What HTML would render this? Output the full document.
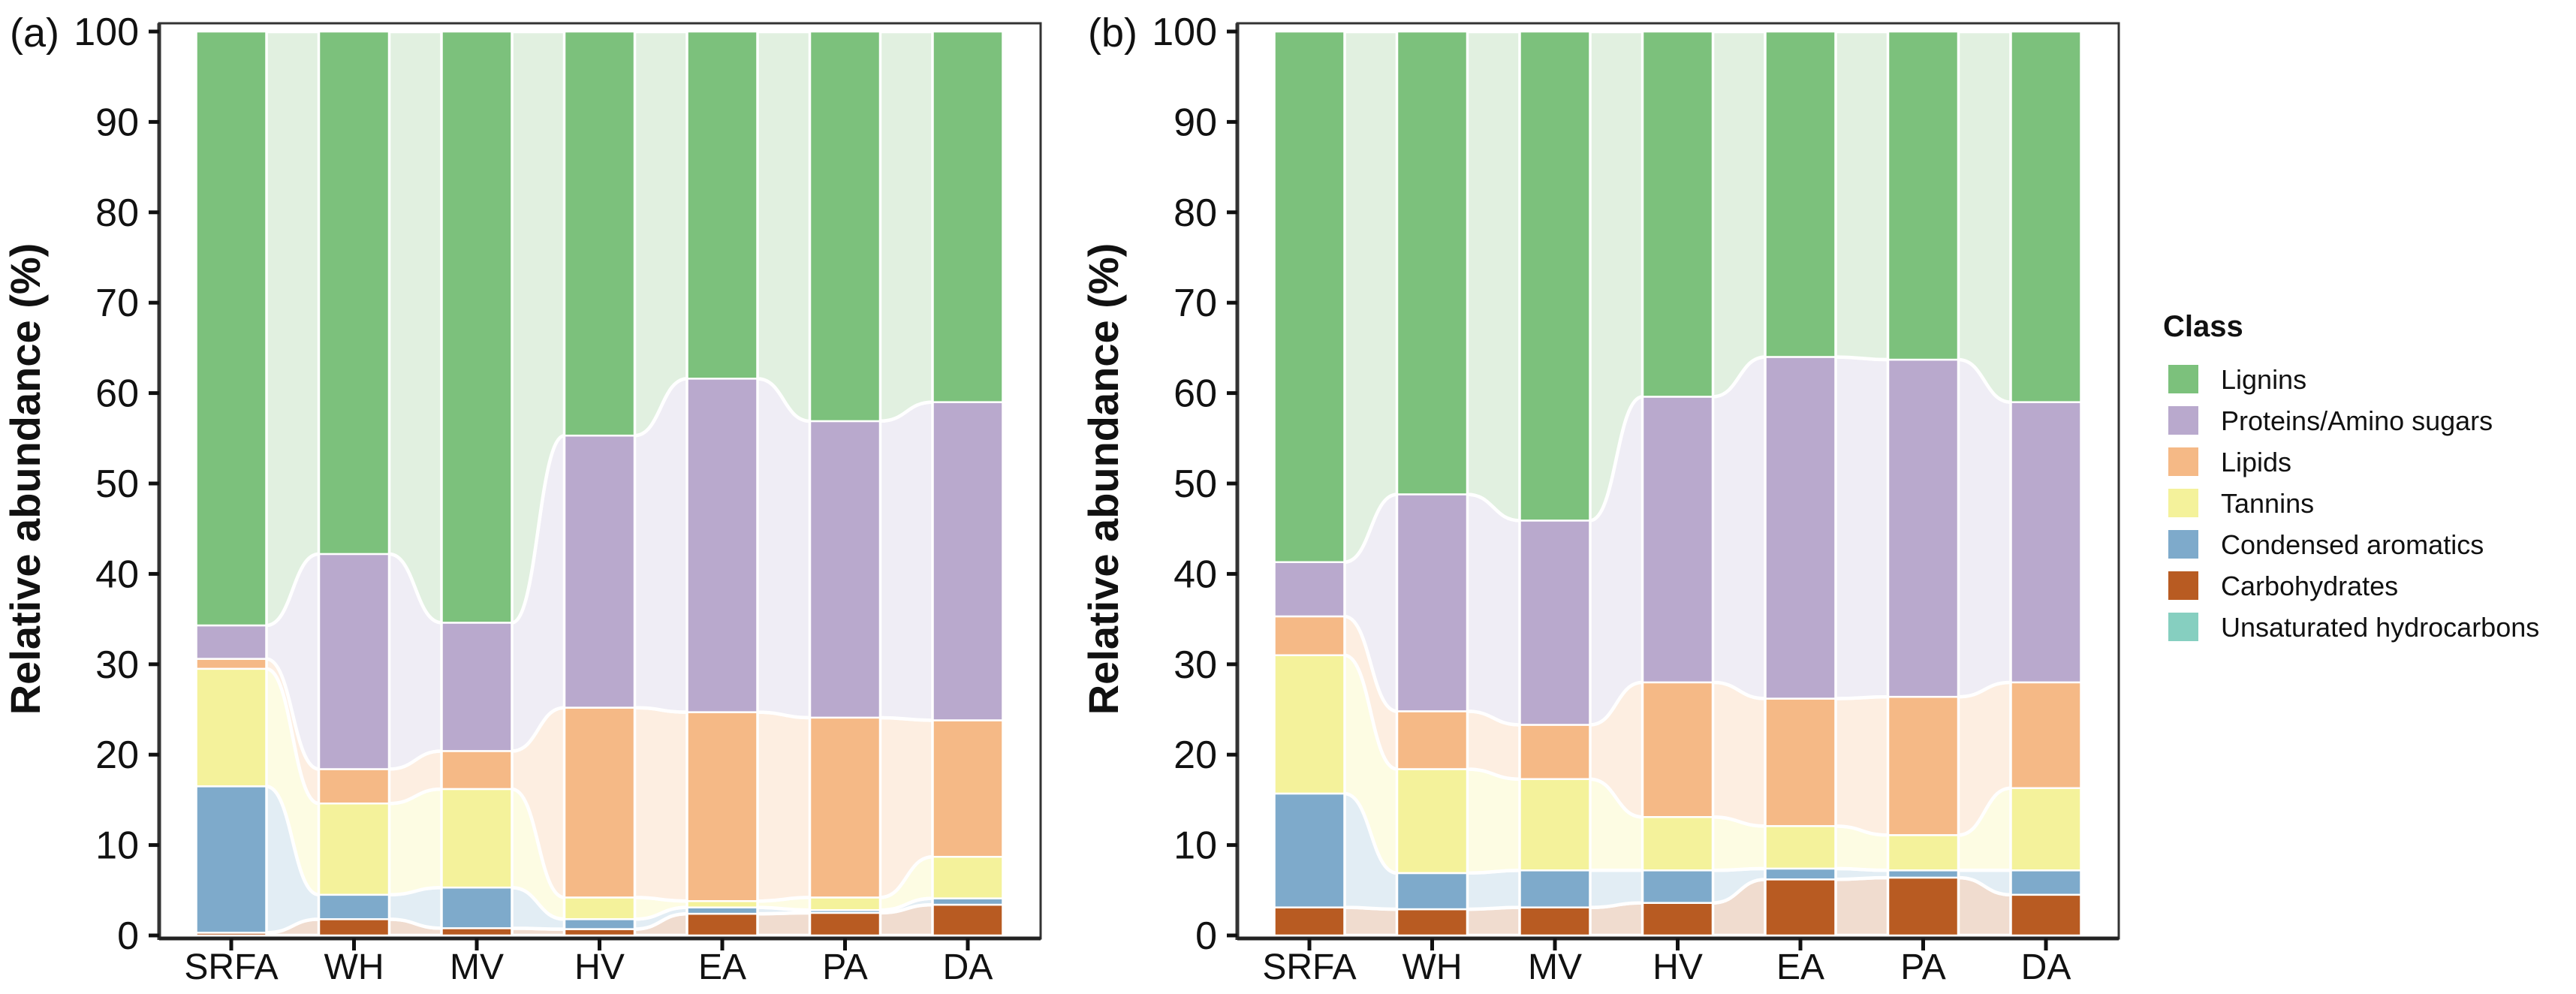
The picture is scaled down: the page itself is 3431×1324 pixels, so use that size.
<!DOCTYPE html>
<html><head><meta charset="utf-8"><style>
html,body{margin:0;padding:0;background:#fff}
svg{display:block;font-family:"Liberation Sans",Arial,sans-serif}
</style></head><body>
<svg id="chart" width="3431" height="1324" viewBox="0 0 3431 1324" xmlns="http://www.w3.org/2000/svg"></svg>
<script>
const categories = ["SRFA","WH","MV","HV","EA","PA","DA"];
const classes = ["Unsaturated hydrocarbons","Carbohydrates","Condensed aromatics","Tannins","Lipids","Proteins/Amino sugars","Lignins"];
// values per class (bottom to top), panel a
const aUnsat = [0,0,0,0,0,0,0];
const aCarb  = [0.3,1.8,0.8,0.7,2.4,2.5,3.4];
const aCond  = [16.2,2.7,4.5,1.1,0.7,0.3,0.7];
const aTan   = [13.0,10.1,10.9,2.4,0.7,1.4,4.6];
const aLip   = [1.1,3.8,4.2,21.0,20.9,19.9,15.1];
const aProt  = [3.7,23.8,14.2,30.1,36.9,32.8,35.2];
const aLig   = [65.7,57.8,65.4,44.7,38.4,43.1,41.0];
// panel b
const bUnsat = [0,0,0,0,0,0,0];
const bCarb  = [3.1,2.9,3.1,3.6,6.2,6.4,4.5];
const bCond  = [12.6,4.0,4.1,3.6,1.2,0.8,2.7];
const bTan   = [15.3,11.5,10.1,5.9,4.7,3.9,9.1];
const bLip   = [4.3,6.4,6.0,14.9,14.1,15.3,11.7];
const bProt  = [6.0,24.0,22.6,31.6,37.8,37.3,31.0];
const bLig   = [58.7,51.2,54.1,40.4,36.0,36.3,41.0];
const yTicks = [0,10,20,30,40,50,60,70,80,90,100];

const dark = ["#86cfc0","#b85b22","#7eaacb","#f4f29b","#f5b986","#b9a9cd","#7cc17c"];
const light = ["#e0f3ef","#f0dccf","#e2edf4","#fdfce3","#fdeee1","#efedf5","#e1f0e0"];
const NS="http://www.w3.org/2000/svg";
const svg=document.getElementById('chart');
function mk(tag,attrs,parent){const e=document.createElementNS(NS,tag);for(const k in attrs)e.setAttribute(k,attrs[k]);(parent||svg).appendChild(e);return e;}

function panel(px, label, series){
  const left=px, right=px+1174, y0=1246, y100=42;
  const y=v=>y0-(v/100)*(y0-y100);
  const x=i=>px+96+i*163.5;
  const bw=93;
  const g=mk('g',{});
  
  
  const cum=categories.map((c,i)=>{let s=0;return series.map(arr=>{const b=s;s+=arr[i];return [b,s];});});
  for(let i=0;i<categories.length-1;i++){
    const xa=x(i)+bw/2, xb=x(i+1)-bw/2, xm=(xa+xb)/2;
    series.forEach((arr,k)=>{
      const [b1,t1]=cum[i][k],[b2,t2]=cum[i+1][k];
      if(t1-b1<=0&&t2-b2<=0)return;
      const d=`M${xa},${y(t1)} C${xm},${y(t1)} ${xm},${y(t2)} ${xb},${y(t2)} L${xb},${y(b2)} C${xm},${y(b2)} ${xm},${y(b1)} ${xa},${y(b1)} Z`;
      const p=mk('path',{d,fill:light[k],stroke:'#fff','stroke-width':4.5},g);
      
      
    });
  }
  categories.forEach((c,i)=>{
    series.forEach((arr,k)=>{
      const [b,t]=cum[i][k]; if(t-b<=0)return;
      const r=mk('rect',{x:x(i)-bw/2,y:y(t),width:bw,height:y(b)-y(t),fill:dark[k],stroke:'#fff','stroke-width':2.5},g);
      
      
    });
  });
  const f=mk('rect',{x:left,y:31,width:right-left,height:y0+4-31,fill:'none',stroke:'#333','stroke-width':3},g);
  
  
  mk('line',{x1:left,y1:31,x2:left,y2:y0+6,stroke:'#333','stroke-width':5},g);
  mk('line',{x1:left,y1:y0+4,x2:right,y2:y0+4,stroke:'#222','stroke-width':5},g);
  yTicks.forEach(v=>{
    mk('line',{x1:left-14,y1:y(v),x2:left,y2:y(v),stroke:'#111','stroke-width':5},g);
    const t=mk('text',{x:left-27,y:y(v)+18,'text-anchor':'end','font-size':52,fill:'#111'},g);
    t.textContent=v;
    
    
  });
  categories.forEach((c,i)=>{
    mk('line',{x1:x(i),y1:y0+4,x2:x(i),y2:y0+20,stroke:'#111','stroke-width':5},g);
    const t=mk('text',{x:x(i),y:1304,'text-anchor':'middle','font-size':48,fill:'#111'},g);
    t.textContent=c;
    
    
  });
  const pl=mk('text',{x:px-199,y:62,'font-size':54,fill:'#111'},g);
  pl.textContent='('+label+')';
  
  
  const yt=mk('text',{x:0,y:0,transform:`translate(${px-159},638) rotate(-90)`,'text-anchor':'middle','font-size':56,'font-weight':'bold',fill:'#111'},g);
  yt.textContent='Relative abundance (%)';
  
  
}
panel(212,'a',[aUnsat,aCarb,aCond,aTan,aLip,aProt,aLig]);
panel(1648,'b',[bUnsat,bCarb,bCond,bTan,bLip,bProt,bLig]);

const lg=mk('g',{});


const lt=mk('text',{x:2881,y:448,'font-size':40,'font-weight':'bold',fill:'#111'},lg);
lt.textContent='Class';


const legendOrder=[6,5,4,3,2,1,0];
legendOrder.forEach((k,j)=>{
  const cy=505+j*55;
  const r=mk('rect',{x:2888,y:cy-19,width:40,height:38,fill:dark[k]},lg);
  
  
  const t=mk('text',{x:2958,y:cy+13,'font-size':36,fill:'#111'},lg);
  t.textContent=classes[k];
  
  
});
</script>
</body></html>
